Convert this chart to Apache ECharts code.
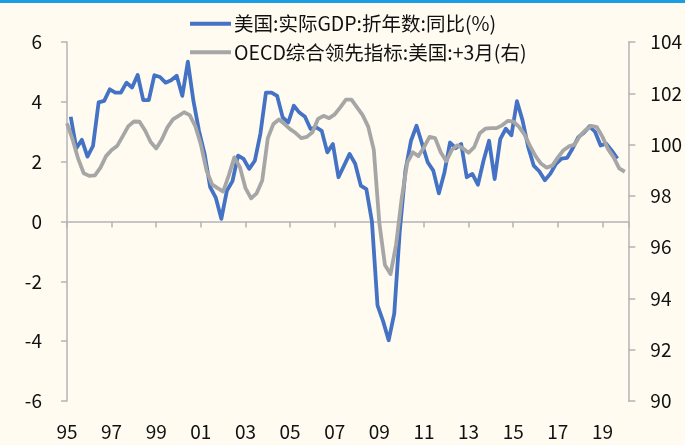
<!DOCTYPE html>
<html>
<head>
<meta charset="utf-8">
<script src="https://cdn.jsdelivr.net/npm/echarts@6/dist/echarts.min.js"></script>
<style>
html,body{margin:0;padding:0;background:#fffbf1;}
#chart{width:685px;height:445px;}
</style>
</head>
<body>
<div id="chart"></div>
<script>
// 美国实际GDP同比, 季度, 1995Q1 - 2019Q3
var gdpYoy = [3.5, 2.45, 2.73, 2.17, 2.53, 3.98, 4.03, 4.42, 4.31, 4.31, 4.64, 4.48, 4.9, 4.06, 4.06, 4.89,
	4.83, 4.64, 4.72, 4.87, 4.2, 5.34, 4.03, 3.03, 2.26, 1.15, 0.8, 0.09, 1.03, 1.35, 2.2, 2.09,
	1.76, 2.03, 2.93, 4.31, 4.31, 4.2, 3.48, 3.31, 3.87, 3.64, 3.5, 3.09, 3.15, 3.03, 2.31, 2.59,
	1.48, 1.87, 2.26, 1.93, 1.2, 1.08, 0.0, -2.8, -3.33, -3.97, -3.08, -0.3, 1.7, 2.7, 3.2, 2.59,
	1.98, 1.7, 0.94, 1.64, 2.64, 2.45, 2.59, 1.48, 1.59, 1.23, 2.03, 2.7, 1.42, 2.75, 3.1, 2.88,
	4.02, 3.38, 2.5, 1.87, 1.68, 1.38, 1.6, 1.93, 2.1, 2.13, 2.45, 2.82, 2.97, 3.18, 3.0, 2.54,
	2.6, 2.37, 2.1];
// OECD综合领先指标:美国 (+3月), 每3个月取一点, 1995-01 起
var cliUs = [100.83, 100.2, 99.45, 98.88, 98.78, 98.8, 99.1, 99.55, 99.79, 99.95, 100.33, 100.72, 100.9, 100.89, 100.55, 100.1,
	99.85, 100.2, 100.67, 100.98, 101.12, 101.26, 101.15, 100.72, 100.0, 99.0, 98.45, 98.3, 98.17, 98.8, 99.5, 99.12,
	98.3, 97.9, 98.1, 98.6, 100.25, 100.8, 100.98, 100.8, 100.6, 100.45, 100.25, 100.3, 100.48, 101.0, 101.12, 101.03,
	101.18, 101.45, 101.75, 101.75, 101.45, 101.15, 100.7, 99.8, 96.93, 95.3, 94.95, 96.1, 97.9, 99.3, 99.7, 99.55,
	99.9, 100.3, 100.25, 99.7, 99.35, 99.8, 99.97, 99.85, 99.68, 99.9, 100.44, 100.62, 100.64, 100.64, 100.75, 100.92,
	100.9, 100.7, 100.4, 99.95, 99.55, 99.25, 99.1, 99.18, 99.5, 99.78, 99.93, 100.0, 100.35, 100.57, 100.73, 100.68,
	100.3, 99.82, 99.5, 99.07, 98.94];
var yearLabels = ['95','97','99','01','03','05','07','09','11','13','15','17','19'];
var leftTicks = {min: -6, max: 6, interval: 2};
var rightTicks = {min: 90, max: 104, interval: 2};

var baseYear = 1995;
var gdpFirstMonth = 3;   // 季末月
var cliFirstMonth = 1;

// 时间换算成距1995年初的年数
function toX(year, month){
	return (year - baseYear) + (month - 1) / 12;
}
function buildSeries(values, firstMonth, stepMonth){
	var arr = [];
	for(var i = 0; i < values.length; i++){
		var m = firstMonth - 1 + i * stepMonth;
		arr.push([toX(baseYear + Math.floor(m / 12), m % 12 + 1), values[i]]);
	}
	return arr;
}
var gdpData = buildSeries(gdpYoy, gdpFirstMonth, 3);
var cliData = buildSeries(cliUs, cliFirstMonth, 3);

var axisColor = '#b4b4b4';
var labelFont = {color: '#111', fontSize: 19, fontFamily: '"Noto Sans CJK SC", "Microsoft YaHei", sans-serif'};

var myChart = echarts.init(document.getElementById('chart'), null, {renderer: 'canvas'});
var option = {
	backgroundColor: '#fffbf1',
	animation: false,
	graphic: [{
		type: 'rect',
		shape: {x: 0, y: 0, width: 685, height: 3},
		style: {fill: '#1a9de2'}
	}],
	legend: {
		orient: 'vertical',
		left: 185,
		top: 9,
		itemWidth: 41,
		itemHeight: 4,
		itemGap: 9,
		icon: 'rect',
		textStyle: {color: '#111', fontSize: 19.5, fontFamily: labelFont.fontFamily, padding: [0, 0, 0, -2]},
		data: ['美国:实际GDP:折年数:同比(%)', 'OECD综合领先指标:美国:+3月(右)']
	},
	grid: {left: 67, right: 56, top: 42, bottom: 44, containLabel: false},
	xAxis: [{
		type: 'value',
		min: 0,
		max: 25.16,
		interval: 2,
		position: 'bottom',
		axisLine: {show: true, onZero: true, lineStyle: {color: axisColor, width: 1.5}},
		axisTick: {show: true, length: 6, lineStyle: {color: axisColor, width: 1.5}},
		axisLabel: {show: false},
		splitLine: {show: false}
	}, {
		type: 'value',
		min: 0,
		max: 25.16,
		interval: 2,
		position: 'bottom',
		axisLine: {show: false, onZero: false},
		axisTick: {show: false},
		splitLine: {show: false},
		axisLabel: {
			show: true,
			margin: 21,
			showMaxLabel: false,
			color: labelFont.color, fontSize: labelFont.fontSize, fontFamily: labelFont.fontFamily,
			formatter: function(v){
				if(Math.abs(v % 2) > 1e-6) return '';
				return yearLabels[Math.round(v / 2)] || '';
			}
		}
	}],
	yAxis: [{
		type: 'value',
		min: leftTicks.min,
		max: leftTicks.max,
		interval: leftTicks.interval,
		position: 'left',
		axisLine: {show: true, onZero: false, lineStyle: {color: axisColor, width: 1.5}},
		axisTick: {show: true, length: 6, lineStyle: {color: axisColor, width: 1.5}},
		axisLabel: {margin: 25, color: labelFont.color, fontSize: labelFont.fontSize, fontFamily: labelFont.fontFamily},
		splitLine: {show: false}
	}, {
		type: 'value',
		min: rightTicks.min,
		max: rightTicks.max,
		interval: rightTicks.interval,
		position: 'right',
		axisLine: {show: true, onZero: false, lineStyle: {color: axisColor, width: 1.5}},
		axisTick: {show: true, length: 7, lineStyle: {color: axisColor, width: 1.5}},
		axisLabel: {margin: 22, color: labelFont.color, fontSize: labelFont.fontSize, fontFamily: labelFont.fontFamily},
		splitLine: {show: false}
	}],
	series: [{
		name: '美国:实际GDP:折年数:同比(%)',
		type: 'line',
		xAxisIndex: 0,
		yAxisIndex: 0,
		symbol: 'none',
		z: 2,
		data: gdpData,
		itemStyle: {color: '#4472c4'},
		lineStyle: {color: '#4472c4', width: 3.8, join: 'round'}
	}, {
		name: 'OECD综合领先指标:美国:+3月(右)',
		type: 'line',
		xAxisIndex: 0,
		yAxisIndex: 1,
		symbol: 'none',
		z: 3,
		data: cliData,
		itemStyle: {color: '#a6a6a6'},
		lineStyle: {color: '#a6a6a6', width: 3.8, join: 'round'}
	}]
};
myChart.setOption(option);
</script>
</body>
</html>
